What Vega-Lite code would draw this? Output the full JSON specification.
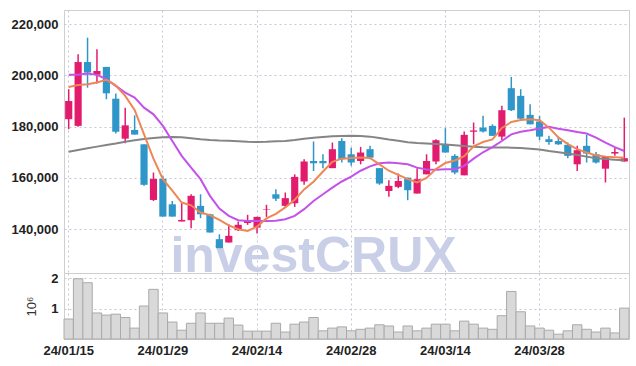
{
  "$schema": "https://vega.github.io/schema/vega-lite/v6.json",
  "padding": {"left": 10, "top": 9, "right": 8, "bottom": 4},
  "spacing": 0,
  "bounds": "flush",
  "config": {
    "view": {"stroke": "#cfcfcf", "strokeWidth": 1},
    "font": "Liberation Sans",
    "axis": {
      "labelFont": "Liberation Sans",
      "labelFontWeight": "bold",
      "labelFontSize": 13,
      "labelColor": "#222222",
      "gridColor": "#c6c6d6",
      "gridDash": [2, 3],
      "gridWidth": 1,
      "domain": false,
      "ticks": false,
      "tickSize": 0,
      "labelPadding": 6
    }
  },
  "datasets": {
    "d": [
      {"date": "24/01/15", "open": 182900, "high": 194600, "low": 179000, "close": 190000, "ma5": 195500, "ma20": 200200, "ma60": 170200, "volume": 660000},
      {"date": "24/01/16", "open": 180300, "high": 208200, "low": 180000, "close": 205200, "ma5": 196200, "ma20": 200200, "ma60": 170900, "volume": 1990000},
      {"date": "24/01/17", "open": 205200, "high": 214700, "low": 195200, "close": 201100, "ma5": 196500, "ma20": 200700, "ma60": 171600, "volume": 1860000},
      {"date": "24/01/18", "open": 200200, "high": 210200, "low": 196800, "close": 201700, "ma5": 197200, "ma20": 200200, "ma60": 172200, "volume": 860000},
      {"date": "24/01/19", "open": 203300, "high": 203300, "low": 190700, "close": 193000, "ma5": 198300, "ma20": 198500, "ma60": 172800, "volume": 790000},
      {"date": "24/01/22", "open": 190900, "high": 192900, "low": 177300, "close": 178000, "ma5": 196000, "ma20": 195900, "ma60": 173400, "volume": 820000},
      {"date": "24/01/23", "open": 175300, "high": 187400, "low": 173500, "close": 180500, "ma5": 192000, "ma20": 193300, "ma60": 174100, "volume": 710000},
      {"date": "24/01/24", "open": 178700, "high": 184400, "low": 176900, "close": 176900, "ma5": 186500, "ma20": 191300, "ma60": 174700, "volume": 360000},
      {"date": "24/01/25", "open": 173100, "high": 173100, "low": 156900, "close": 157300, "ma5": 177000, "ma20": 187400, "ma60": 175200, "volume": 1090000},
      {"date": "24/01/26", "open": 151400, "high": 162100, "low": 151000, "close": 159600, "ma5": 167500, "ma20": 184800, "ma60": 175600, "volume": 1640000},
      {"date": "24/01/29", "open": 159600, "high": 160800, "low": 144900, "close": 144900, "ma5": 159500, "ma20": 180300, "ma60": 175900, "volume": 860000},
      {"date": "24/01/30", "open": 149700, "high": 151000, "low": 144900, "close": 144900, "ma5": 155000, "ma20": 174400, "ma60": 176000, "volume": 560000},
      {"date": "24/01/31", "open": 143000, "high": 150400, "low": 143000, "close": 143600, "ma5": 150400, "ma20": 168600, "ma60": 175900, "volume": 290000},
      {"date": "24/02/01", "open": 143500, "high": 153600, "low": 140400, "close": 153000, "ma5": 149300, "ma20": 164000, "ma60": 175500, "volume": 520000},
      {"date": "24/02/02", "open": 149100, "high": 153600, "low": 144300, "close": 145800, "ma5": 146500, "ma20": 159500, "ma60": 175100, "volume": 860000},
      {"date": "24/02/05", "open": 145800, "high": 146000, "low": 138700, "close": 138700, "ma5": 145500, "ma20": 153000, "ma60": 174800, "volume": 520000},
      {"date": "24/02/06", "open": 136100, "high": 138000, "low": 132600, "close": 132600, "ma5": 143600, "ma20": 148000, "ma60": 174600, "volume": 520000},
      {"date": "24/02/07", "open": 134800, "high": 141900, "low": 134800, "close": 137400, "ma5": 141500, "ma20": 145200, "ma60": 174500, "volume": 690000},
      {"date": "24/02/08", "open": 139600, "high": 143000, "low": 139300, "close": 141700, "ma5": 140000, "ma20": 143500, "ma60": 174300, "volume": 460000},
      {"date": "24/02/13", "open": 142400, "high": 145600, "low": 141700, "close": 143500, "ma5": 139300, "ma20": 143200, "ma60": 174100, "volume": 260000},
      {"date": "24/02/14", "open": 140600, "high": 144800, "low": 138300, "close": 144800, "ma5": 141000, "ma20": 143200, "ma60": 174000, "volume": 260000},
      {"date": "24/02/15", "open": 147500, "high": 149500, "low": 144800, "close": 147700, "ma5": 144200, "ma20": 143200, "ma60": 174100, "volume": 260000},
      {"date": "24/02/16", "open": 153600, "high": 155600, "low": 151000, "close": 151900, "ma5": 146000, "ma20": 143300, "ma60": 174300, "volume": 520000},
      {"date": "24/02/19", "open": 149100, "high": 154300, "low": 148400, "close": 152100, "ma5": 148500, "ma20": 143900, "ma60": 174400, "volume": 230000},
      {"date": "24/02/20", "open": 150100, "high": 161400, "low": 148700, "close": 160400, "ma5": 151500, "ma20": 145200, "ma60": 174800, "volume": 490000},
      {"date": "24/02/21", "open": 158600, "high": 167300, "low": 157300, "close": 166400, "ma5": 155500, "ma20": 147800, "ma60": 175300, "volume": 560000},
      {"date": "24/02/22", "open": 166600, "high": 174200, "low": 162700, "close": 165700, "ma5": 158500, "ma20": 151000, "ma60": 175700, "volume": 710000},
      {"date": "24/02/23", "open": 166600, "high": 169200, "low": 163800, "close": 165700, "ma5": 162500, "ma20": 153600, "ma60": 176000, "volume": 270000},
      {"date": "24/02/26", "open": 163800, "high": 173800, "low": 163800, "close": 171200, "ma5": 166300, "ma20": 156200, "ma60": 176200, "volume": 360000},
      {"date": "24/02/27", "open": 174400, "high": 175500, "low": 166000, "close": 167300, "ma5": 167500, "ma20": 158600, "ma60": 176300, "volume": 400000},
      {"date": "24/02/28", "open": 169200, "high": 171800, "low": 164700, "close": 166000, "ma5": 167800, "ma20": 160500, "ma60": 176400, "volume": 270000},
      {"date": "24/02/29", "open": 166600, "high": 172100, "low": 165300, "close": 169900, "ma5": 168000, "ma20": 162800, "ma60": 176300, "volume": 320000},
      {"date": "24/03/04", "open": 171200, "high": 172500, "low": 167300, "close": 167900, "ma5": 167800, "ma20": 164500, "ma60": 176100, "volume": 360000},
      {"date": "24/03/05", "open": 163800, "high": 163800, "low": 157300, "close": 157800, "ma5": 165300, "ma20": 165700, "ma60": 175600, "volume": 470000},
      {"date": "24/03/06", "open": 154900, "high": 159100, "low": 152600, "close": 156900, "ma5": 162800, "ma20": 166000, "ma60": 175000, "volume": 430000},
      {"date": "24/03/07", "open": 156500, "high": 161700, "low": 156000, "close": 158800, "ma5": 161200, "ma20": 165700, "ma60": 174500, "volume": 230000},
      {"date": "24/03/08", "open": 160100, "high": 160100, "low": 151300, "close": 155200, "ma5": 159500, "ma20": 165300, "ma60": 173900, "volume": 430000},
      {"date": "24/03/11", "open": 153900, "high": 163800, "low": 153900, "close": 159500, "ma5": 158200, "ma20": 164000, "ma60": 173600, "volume": 270000},
      {"date": "24/03/12", "open": 161400, "high": 169200, "low": 161400, "close": 166600, "ma5": 160000, "ma20": 163300, "ma60": 173400, "volume": 360000},
      {"date": "24/03/13", "open": 166400, "high": 175100, "low": 165300, "close": 174700, "ma5": 163500, "ma20": 163200, "ma60": 173200, "volume": 490000},
      {"date": "24/03/14", "open": 173100, "high": 179400, "low": 169900, "close": 169900, "ma5": 165800, "ma20": 163400, "ma60": 173000, "volume": 490000},
      {"date": "24/03/15", "open": 168600, "high": 169200, "low": 161400, "close": 162100, "ma5": 166800, "ma20": 163400, "ma60": 172700, "volume": 270000},
      {"date": "24/03/18", "open": 161000, "high": 178100, "low": 161000, "close": 176800, "ma5": 168500, "ma20": 164700, "ma60": 172400, "volume": 590000},
      {"date": "24/03/19", "open": 178000, "high": 181600, "low": 173100, "close": 178500, "ma5": 172300, "ma20": 167500, "ma60": 172200, "volume": 490000},
      {"date": "24/03/20", "open": 179600, "high": 184200, "low": 177700, "close": 178100, "ma5": 174000, "ma20": 170000, "ma60": 172000, "volume": 360000},
      {"date": "24/03/21", "open": 180300, "high": 180900, "low": 176400, "close": 176400, "ma5": 175000, "ma20": 172000, "ma60": 171900, "volume": 320000},
      {"date": "24/03/22", "open": 176100, "high": 188100, "low": 174800, "close": 186400, "ma5": 179500, "ma20": 174400, "ma60": 171900, "volume": 770000},
      {"date": "24/03/25", "open": 195000, "high": 199400, "low": 186100, "close": 186400, "ma5": 181800, "ma20": 177000, "ma60": 171800, "volume": 1570000},
      {"date": "24/03/26", "open": 192000, "high": 194600, "low": 182200, "close": 183100, "ma5": 182600, "ma20": 178000, "ma60": 171700, "volume": 900000},
      {"date": "24/03/27", "open": 184600, "high": 188700, "low": 180900, "close": 180900, "ma5": 182900, "ma20": 178600, "ma60": 171400, "volume": 430000},
      {"date": "24/03/28", "open": 182000, "high": 184200, "low": 174700, "close": 176100, "ma5": 182500, "ma20": 179300, "ma60": 171100, "volume": 360000},
      {"date": "24/03/29", "open": 175100, "high": 176400, "low": 172900, "close": 174000, "ma5": 179600, "ma20": 179900, "ma60": 170500, "volume": 290000},
      {"date": "24/04/01", "open": 174400, "high": 176000, "low": 172900, "close": 173100, "ma5": 175800, "ma20": 179200, "ma60": 170000, "volume": 160000},
      {"date": "24/04/02", "open": 172900, "high": 173800, "low": 167700, "close": 168600, "ma5": 173200, "ma20": 178600, "ma60": 169500, "volume": 270000},
      {"date": "24/04/03", "open": 165300, "high": 172500, "low": 162700, "close": 170800, "ma5": 171200, "ma20": 177900, "ma60": 168900, "volume": 470000},
      {"date": "24/04/04", "open": 172500, "high": 176800, "low": 166000, "close": 169500, "ma5": 169900, "ma20": 177300, "ma60": 168300, "volume": 320000},
      {"date": "24/04/05", "open": 169200, "high": 170100, "low": 165600, "close": 166000, "ma5": 168800, "ma20": 175700, "ma60": 167700, "volume": 230000},
      {"date": "24/04/08", "open": 163600, "high": 168600, "low": 158200, "close": 168200, "ma5": 168300, "ma20": 173800, "ma60": 167400, "volume": 360000},
      {"date": "24/04/09", "open": 169500, "high": 171800, "low": 168600, "close": 170100, "ma5": 168100, "ma20": 172000, "ma60": 167100, "volume": 200000},
      {"date": "24/04/11", "open": 166400, "high": 183500, "low": 166400, "close": 167700, "ma5": 167900, "ma20": 170500, "ma60": 166900, "volume": 1020000}
    ]
  },
  "vconcat": [
    {
      "width": 565,
      "height": 263,
      "encoding": {
        "x": {
          "field": "date",
          "type": "ordinal",
          "scale": {"paddingInner": 0, "paddingOuter": 0},
          "axis": {
            "title": null,
            "labels": false,
            "grid": true,
            "bandPosition": 0.5,
            "values": ["24/01/15", "24/01/29", "24/02/14", "24/02/28", "24/03/14", "24/03/28"]
          }
        }
      },
      "layer": [
        {
          "data": {"values": [{"label": "investCRUX"}]},
          "mark": {"type": "text", "font": "Liberation Sans", "fontWeight": "bold", "fontSize": 50, "color": "#c9cfe6", "align": "center", "baseline": "alphabetic"},
          "encoding": {
            "x": {"datum": "24/02/22"},
            "y": {"datum": 123400, "type": "quantitative"},
            "text": {"field": "label"}
          }
        },
        {
          "data": {"name": "d"},
          "mark": {"type": "rule", "strokeWidth": 1.5},
          "encoding": {
            "y": {
              "field": "low",
              "type": "quantitative",
              "scale": {"domain": [122900, 225500], "nice": false, "zero": false},
              "axis": {"title": null, "values": [140000, 160000, 180000, 200000, 220000], "format": ",d", "grid": true}
            },
            "y2": {"field": "high"},
            "color": {"condition": {"test": "datum.close >= datum.open", "value": "#e31b6d"}, "value": "#2e96c8"}
          }
        },
        {
          "data": {"name": "d"},
          "mark": {"type": "bar", "width": {"band": 0.76}},
          "encoding": {
            "y": {"field": "open", "type": "quantitative"},
            "y2": {"field": "close"},
            "color": {"condition": {"test": "datum.close >= datum.open", "value": "#e31b6d"}, "value": "#2e96c8"}
          }
        },
        {
          "data": {"name": "d"},
          "mark": {"type": "line", "color": "#858585", "strokeWidth": 2},
          "encoding": {"y": {"field": "ma60", "type": "quantitative"}}
        },
        {
          "data": {"name": "d"},
          "mark": {"type": "line", "color": "#c452ea", "strokeWidth": 2},
          "encoding": {"y": {"field": "ma20", "type": "quantitative"}}
        },
        {
          "data": {"name": "d"},
          "mark": {"type": "line", "color": "#ef8656", "strokeWidth": 2},
          "encoding": {"y": {"field": "ma5", "type": "quantitative"}}
        }
      ]
    },
    {
      "width": 565,
      "height": 66,
      "data": {"name": "d"},
      "mark": {"type": "bar", "color": "#d9d9d9", "stroke": "#aaaaaa", "strokeWidth": 1},
      "encoding": {
        "x": {
          "field": "date",
          "type": "ordinal",
          "scale": {"paddingInner": 0, "paddingOuter": 0},
          "axis": {
            "title": null,
            "labelAngle": 0,
            "labelPadding": 5,
            "grid": true,
            "bandPosition": 0.5,
            "values": ["24/01/15", "24/01/29", "24/02/14", "24/02/28", "24/03/14", "24/03/28"]
          }
        },
        "y": {
          "field": "volume",
          "type": "quantitative",
          "scale": {"domain": [0, 2180000], "nice": false},
          "axis": {
            "title": "10⁶",
            "titleFont": "Liberation Sans",
            "titleFontWeight": "normal",
            "titleFontSize": 13,
            "titleColor": "#333333",
            "titlePadding": 12,
            "values": [1000000, 2000000],
            "labelExpr": "format(datum.value / 1000000, 'd')",
            "grid": true
          }
        }
      }
    }
  ]
}
